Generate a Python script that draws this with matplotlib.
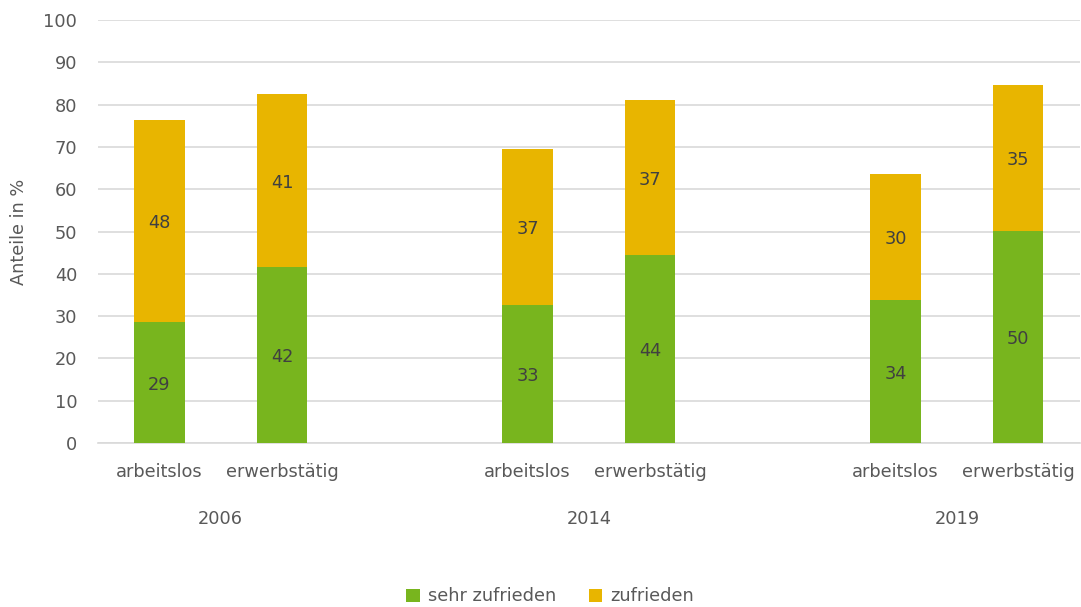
import matplotlib.pyplot as plt
import numpy as np

years = ['2006', '2014', '2019']
groups = ['arbeitslos', 'erwerbstätig']
sehr_zufrieden = [28.6, 41.7, 32.6, 44.4, 33.8, 50.1]
zufrieden = [47.8, 40.7, 37.0, 36.8, 29.8, 34.6]
labels_sehr = ['29', '42', '33', '44', '34', '50']
labels_zuf = ['48', '41', '37', '37', '30', '35']

green = '#78B51E'
yellow = '#E8B500'
txt = '#595959'
fs = 12.8

plt.rcParams['font.family'] = ['DejaVu Sans']
plt.rcParams['font.size'] = fs

fig = plt.figure(figsize=(10.81, 6.07), dpi=100)
ax = fig.add_axes([0.0907, 0.270, 0.908, 0.697])

# slots: two bars per year, one empty slot between years
x = np.array([0, 1, 3, 4, 6, 7])
w = 0.41
ax.bar(x, sehr_zufrieden, w, color=green, label='sehr zufrieden', zorder=3)
ax.bar(x, zufrieden, w, bottom=sehr_zufrieden, color=yellow, label='zufrieden', zorder=3)

for xi, s, z, ls, lz in zip(x, sehr_zufrieden, zufrieden, labels_sehr, labels_zuf):
    ax.text(xi, s / 2 - 0.5, ls, ha='center', va='center', color='#404040', fontsize=fs, zorder=4)
    ax.text(xi, s + z / 2 - 0.5, lz, ha='center', va='center', color='#404040', fontsize=fs, zorder=4)

ax.set_xlim(-0.5, 7.5)
ax.set_ylim(0, 100)
ax.set_yticks(np.arange(0, 101, 10))
ax.grid(axis='y', color='#d9d9d9', linewidth=1.2, zorder=0)
for s in ['top', 'right', 'left']:
    ax.spines[s].set_visible(False)
ax.spines['bottom'].set_color('#d9d9d9')
ax.spines['bottom'].set_linewidth(1.2)
ax.tick_params(axis='y', length=0, pad=15, labelsize=fs, labelcolor=txt)
ax.tick_params(axis='x', length=0, pad=14, labelsize=fs, labelcolor=txt)
ax.set_xticks(x)
ax.set_xticklabels(groups * 3)
ax.set_ylabel('Anteile in %', fontsize=fs, color=txt, labelpad=11)

for i, yr in enumerate(years):
    ax.text(3 * i + 0.5, -18, yr, ha='center', va='center', fontsize=fs, color=txt)

ax.legend(loc='center', bbox_to_anchor=(0.4605, -0.362), ncol=2, frameon=False,
          fontsize=fs, labelcolor=txt, handlelength=0.75, handleheight=0.75,
          handletextpad=0.45, columnspacing=1.85)

fig.savefig('out.png', dpi=100)
